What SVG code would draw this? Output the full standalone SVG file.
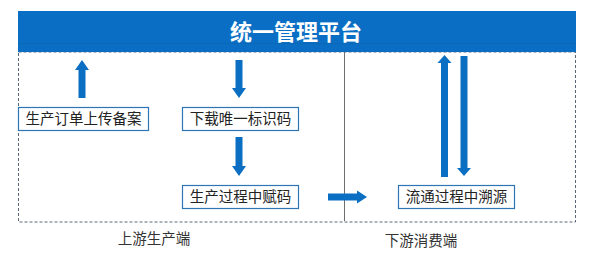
<svg xmlns="http://www.w3.org/2000/svg" width="600" height="255" viewBox="0 0 600 255">
<style>
.box{fill:#ffffff;stroke:#2e75b6;stroke-width:1.2}
.bt{font-family:"Noto Sans CJK SC","Noto Sans",sans-serif;font-size:14.5px;fill:#222;text-anchor:middle}
.lab{font-family:"Noto Sans CJK SC","Noto Sans",sans-serif;font-size:14.5px;fill:#333;text-anchor:middle}
.arr{fill:#0a6fc2}
</style>
<rect width="600" height="255" fill="#ffffff"/>
<g id="frame">
<rect x="18.5" y="52" width="557" height="170" fill="none" stroke="#5a6878" stroke-width="1" stroke-dasharray="3,2"/>
<line x1="344.5" y1="52" x2="344.5" y2="221" stroke="#6e6e6e" stroke-width="1"/>
</g>
<g id="platform">
<rect x="18" y="11" width="558" height="41" fill="#0a6fc4"/>
<rect x="18" y="43" width="558" height="1" fill="#0b64ae" opacity="0.6"/>
<text x="296" y="40" font-family="'Noto Sans CJK SC','Noto Sans',sans-serif" font-size="22" font-weight="bold" fill="#ffffff" text-anchor="middle">统一管理平台</text>
</g>
<g id="n1">
<rect class="box" x="18.5" y="107.5" width="130" height="23"/>
<text class="bt" x="83.5" y="124">生产订单上传备案</text>
</g>
<g id="n2">
<rect class="box" x="182.5" y="107.5" width="116" height="23"/>
<text class="bt" x="240.5" y="124">下载唯一标识码</text>
</g>
<g id="n3">
<rect class="box" x="182.5" y="185.5" width="116" height="23"/>
<text class="bt" x="240.5" y="202">生产过程中赋码</text>
</g>
<g id="n4">
<rect class="box" x="398.5" y="185.5" width="116" height="23"/>
<text class="bt" x="456.5" y="202">流通过程中溯源</text>
</g>
<g id="connectors">
<polygon class="arr" points="82,60 89,70 85.5,70 85.5,98 78.5,98 78.5,70 75,70"/>
<polygon class="arr" points="239,98 246,88 242.5,88 242.5,60 235.5,60 235.5,88 232,88"/>
<polygon class="arr" points="239,176 246,166 242.5,166 242.5,137 235.5,137 235.5,166 232,166"/>
<polygon class="arr" points="367,197 357,190.5 357,193.5 328,193.5 328,200.5 357,200.5 357,203.5"/>
<polygon class="arr" points="444.5,55 451.5,63 448,63 448,177 441,177 441,63 437.5,63"/>
<polygon class="arr" points="464,176 471,168 467.5,168 467.5,56 460.5,56 460.5,168 457,168"/>
</g>
<g id="labels">
<text class="lab" x="154" y="244">上游生产端</text>
<text class="lab" x="421" y="246">下游消费端</text>
</g>
</svg>
